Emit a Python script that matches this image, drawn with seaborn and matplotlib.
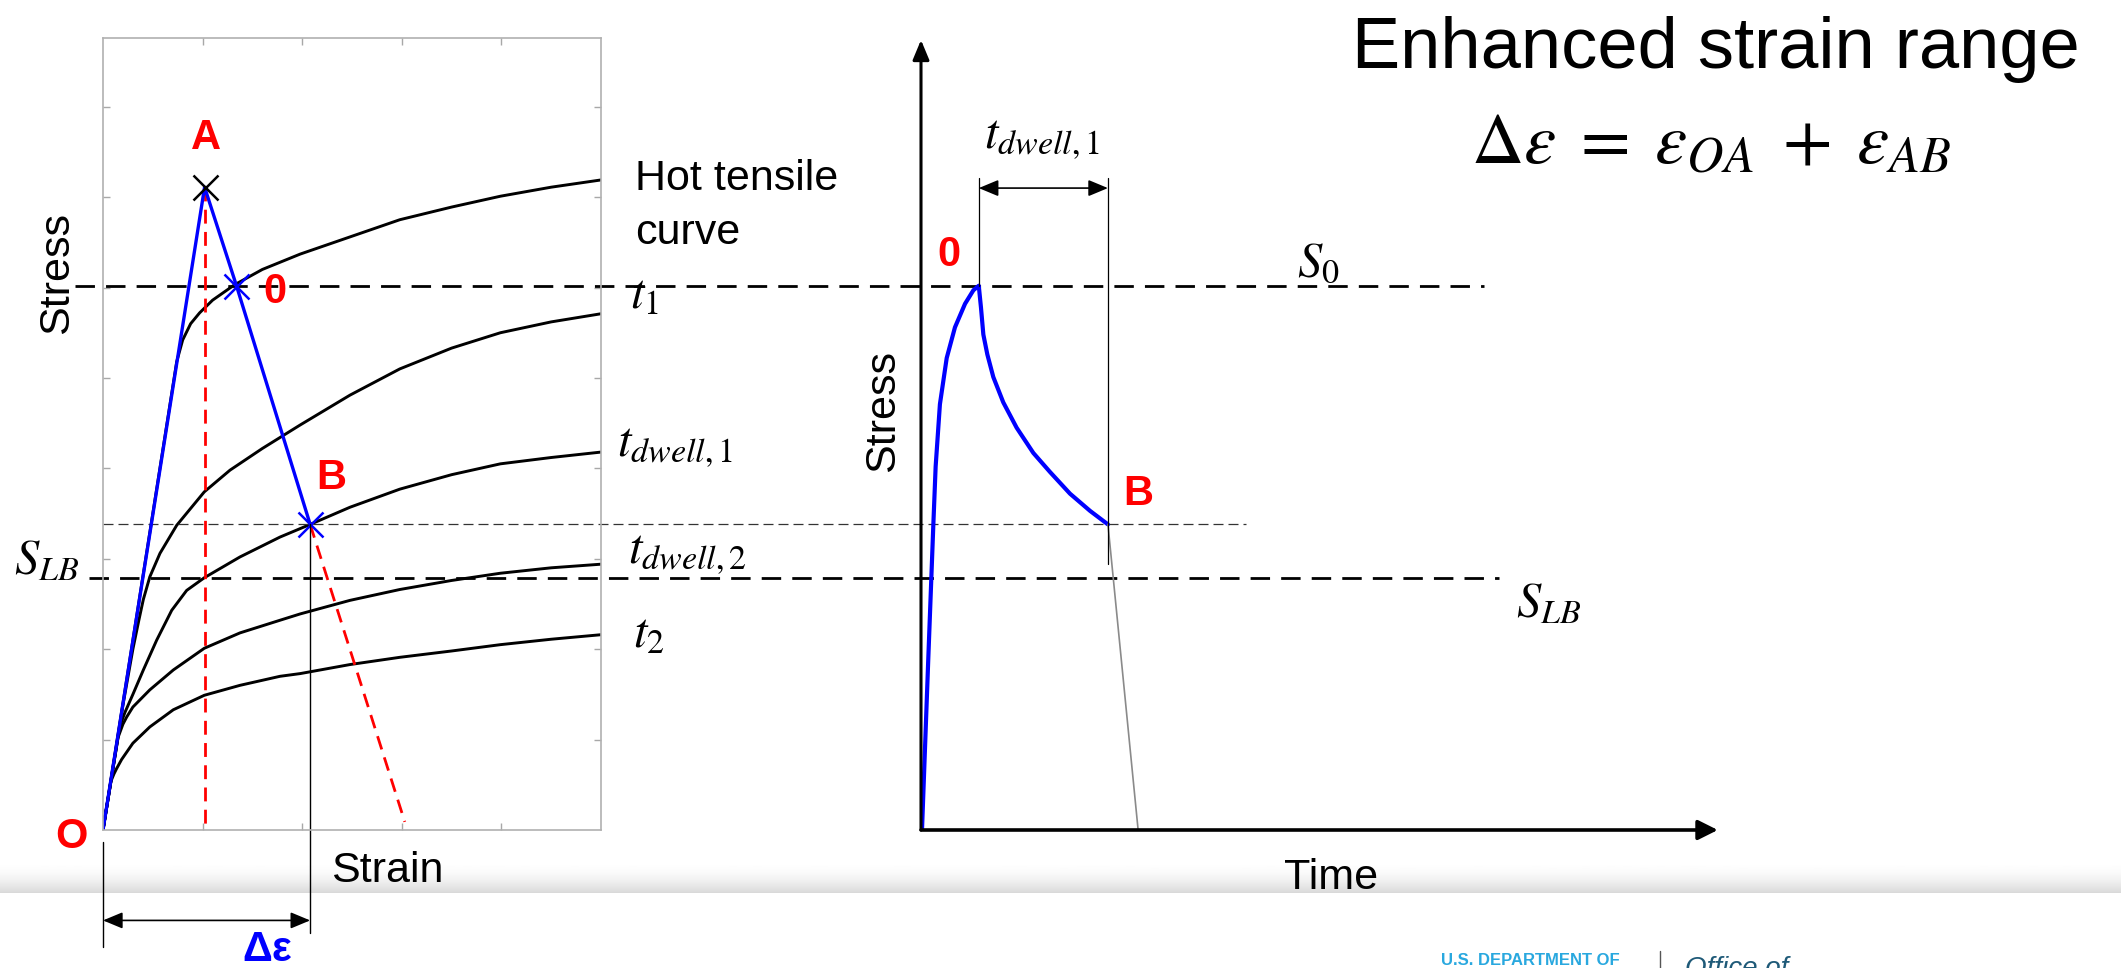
import numpy as np
import pandas as pd
import matplotlib
matplotlib.use("Agg")
import matplotlib.pyplot as plt
import matplotlib.transforms as mtransforms
from matplotlib.lines import Line2D
from matplotlib import font_manager
import seaborn as sns

# ---- values (left panel: strain / stress in tick units) ----
strain_hot = [0, 0.74, 0.80, 0.88, 0.97, 1.10, 1.32, 1.60, 1.98, 2.48, 2.98, 3.50, 3.99, 4.50, 5.00]
stress_hot = [0, 5.18, 5.42, 5.60, 5.72, 5.86, 6.03, 6.20, 6.37, 6.56, 6.75, 6.89, 7.01, 7.11, 7.19]

strain_t1 = [0, 0.20, 0.30, 0.36, 0.405, 0.47, 0.572, 0.74, 1.017, 1.275, 1.60, 1.98, 2.48, 2.98, 3.50, 3.99, 4.50, 5.00]
stress_t1 = [0, 1.38, 2.00, 2.32, 2.55, 2.80, 3.06, 3.37, 3.74, 3.98, 4.22, 4.48, 4.81, 5.10, 5.33, 5.50, 5.62, 5.71]

strain_dw1 = [0, 0.17, 0.22, 0.30, 0.405, 0.539, 0.69, 0.84, 1.017, 1.375, 1.777, 2.08, 2.48, 2.98, 3.50, 3.99, 4.50, 5.00]
stress_dw1 = [0, 1.15, 1.30, 1.50, 1.77, 2.10, 2.43, 2.65, 2.79, 3.02, 3.24, 3.38, 3.57, 3.77, 3.93, 4.05, 4.12, 4.18]

strain_dw2 = [0, 0.15, 0.20, 0.238, 0.30, 0.47, 0.706, 1.017, 1.375, 1.777, 1.98, 2.48, 2.98, 3.50, 3.99, 4.50, 5.00]
stress_dw2 = [0, 1.02, 1.17, 1.25, 1.36, 1.55, 1.77, 2.01, 2.18, 2.32, 2.39, 2.54, 2.66, 2.76, 2.84, 2.90, 2.94]

strain_t2 = [0, 0.08, 0.11, 0.137, 0.187, 0.30, 0.47, 0.706, 1.017, 1.375, 1.777, 1.98, 2.48, 2.98, 3.50, 3.99, 4.50, 5.00]
stress_t2 = [0, 0.54, 0.62, 0.68, 0.78, 0.96, 1.14, 1.33, 1.49, 1.60, 1.70, 1.73, 1.83, 1.91, 1.98, 2.05, 2.11, 2.16]

point_A = (1.02, 7.11)
point_0 = (1.34, 6.02)
point_B = (2.08, 3.38)
unload_end = (3.03, 0.09)
S0 = 6.02
S_LB = 2.79

# ---- right panel: time / stress ----
time_blue = [0.01, 0.074, 0.124, 0.147, 0.19, 0.258, 0.341, 0.442, 0.526, 0.58,
             0.602, 0.626, 0.666, 0.726, 0.826, 0.96, 1.128, 1.295, 1.496, 1.697, 1.877]
stress_blue = [0.0, 1.92, 3.38, 4.02, 4.71, 5.22, 5.56, 5.82, 5.97, 6.02,
               5.78, 5.48, 5.26, 5.01, 4.73, 4.45, 4.17, 3.96, 3.72, 3.53, 3.38]
t_peak = 0.58
t_B = 1.877
t_unload = 2.18
dwell_top = 7.21
dwell_arrow = 7.10
B_line_bottom = 2.94

# ---- setup ----
W, H = 2121, 968
sns.set_style("white")
plt.rcParams["font.family"] = ["Liberation Sans", "DejaVu Sans"]
plt.rcParams["mathtext.fontset"] = "stix"
plt.rcParams["text.color"] = "black"
names = {f.name for f in font_manager.fontManager.ttflist}
narrow = "Liberation Sans Narrow" if "Liberation Sans Narrow" in names else "Liberation Sans"


def fx(x):
    return x / W


def fy(y):
    return 1 - y / H


fig = plt.figure(figsize=(W / 100, H / 100), dpi=100)

# footer gradient band
ax_band = fig.add_axes([0, fy(893), 1, 33 / H])
grad = 1 - 0.15 * np.linspace(0, 1, 60) ** 2
ax_band.imshow(grad[:, None], aspect="auto", cmap="gray", vmin=0, vmax=1, extent=[0, 1, 0, 1])
ax_band.axis("off")

# ---- left panel ----
ax_l = fig.add_axes([fx(103), fy(830), 498 / W, 792 / H])
ax_l.set_xlim(0, 5)
ax_l.set_ylim(0, 8.76)
ax_l.set_xticks([1, 2, 3, 4])
ax_l.set_yticks(range(1, 9))
ax_l.tick_params(direction="in", length=5, width=1, colors="#a8a8a8",
                 top=True, right=True, bottom=True, left=True,
                 labelbottom=False, labelleft=False)
for sp in ax_l.spines.values():
    sp.set_color("#b0b0b0")
    sp.set_linewidth(1.2)

curves = pd.concat([
    pd.DataFrame({"strain": strain_hot, "stress": stress_hot, "curve": "hot"}),
    pd.DataFrame({"strain": strain_t1, "stress": stress_t1, "curve": "t1"}),
    pd.DataFrame({"strain": strain_dw1, "stress": stress_dw1, "curve": "dwell1"}),
    pd.DataFrame({"strain": strain_dw2, "stress": stress_dw2, "curve": "dwell2"}),
    pd.DataFrame({"strain": strain_t2, "stress": stress_t2, "curve": "t2"}),
])
sns.lineplot(data=curves, x="strain", y="stress", units="curve", estimator=None,
             sort=False, color="black", lw=2.1, ax=ax_l, legend=False)

# spanning horizontal dashed lines
trans = mtransforms.blended_transform_factory(fig.transFigure, ax_l.transData)
ax_l.plot([fx(75), fx(1484)], [S0, S0], transform=trans, clip_on=False,
          color="black", lw=2.0, ls=(0, (7, 4)))
ax_l.plot([fx(89), fx(1499)], [S_LB, S_LB], transform=trans, clip_on=False,
          color="black", lw=2.0, ls=(0, (7, 4)))
ax_l.plot([fx(103), fx(1246)], [point_B[1], point_B[1]], transform=trans, clip_on=False,
          color="#333333", lw=0.9, ls=(0, (8, 4)))

# red construction lines
ax_l.plot([point_A[0], point_A[0]], [point_A[1], 0], color="red", lw=2.0, ls=(0, (5, 3)))
ax_l.plot([point_B[0], unload_end[0]], [point_B[1], unload_end[1]], color="red", lw=2.0, ls=(0, (5, 3)))

# blue loading / relaxation path
sns.lineplot(x=[0, point_A[0], point_0[0], point_B[0]], y=[0, point_A[1], point_0[1], point_B[1]],
             sort=False, color="blue", lw=2.4, ax=ax_l)
ax_l.plot(*point_A, marker="x", color="black", ms=18, mew=1.8)
ax_l.plot([point_0[0], point_B[0]], [point_0[1], point_B[1]], ls="none",
          marker="x", color="blue", ms=18, mew=1.8)

# strain range dimension
ax_l.plot([0, 0], [-0.13, -1.29], color="black", lw=1.0, clip_on=False)
ax_l.plot([point_B[0], point_B[0]], [point_B[1], -1.14], color="black", lw=1.0, clip_on=False)
ax_l.annotate("", xy=(point_B[0], -1.0), xytext=(0, -1.0), annotation_clip=False,
              arrowprops=dict(arrowstyle="<|-|>,head_length=0.6,head_width=0.25",
                              mutation_scale=20, lw=1.2, color="black", shrinkA=0, shrinkB=0))
ax_l.set_xlabel("")
ax_l.set_ylabel("")

# ---- right panel ----
ax_r = fig.add_axes([fx(921), fy(830), 800 / W, 792 / H])
ax_r.set_xlim(0, 800 / 99.6)
ax_r.set_ylim(0, 8.76)
ax_r.axis("off")
ax_r.annotate("", xy=(0, 0.9975), xytext=(0, 0), xycoords="axes fraction",
              arrowprops=dict(arrowstyle="-|>,head_length=0.6,head_width=0.25",
                              mutation_scale=20, lw=2.2, color="black", shrinkA=0, shrinkB=0))
ax_r.annotate("", xy=(0.996, 0), xytext=(0, 0), xycoords="axes fraction",
              arrowprops=dict(arrowstyle="-|>,head_length=0.6,head_width=0.3",
                              mutation_scale=20, lw=2.6, color="black", shrinkA=0, shrinkB=0))

sns.lineplot(x=time_blue, y=stress_blue, sort=False, color="blue", lw=3.0, ax=ax_r)
ax_r.plot([t_B, t_unload], [point_B[1], 0], color="#8a8a8a", lw=1.2)
ax_r.plot([t_peak, t_peak], [S0, dwell_top], color="black", lw=0.9)
ax_r.plot([t_B, t_B], [B_line_bottom, dwell_top], color="black", lw=0.9)
ax_r.annotate("", xy=(t_B, dwell_arrow), xytext=(t_peak, dwell_arrow),
              arrowprops=dict(arrowstyle="<|-|>,head_length=0.6,head_width=0.25",
                              mutation_scale=20, lw=1.2, color="black", shrinkA=0, shrinkB=0))
ax_r.set_xlabel("")
ax_r.set_ylabel("")

# ---- text ----
lab = dict(fontsize=31, ha="center", va="center")
fig.text(fx(57), fy(273), "Stress", rotation=90, **lab)
fig.text(fx(387), fy(871), "Strain", **lab)
fig.text(fx(883), fy(411), "Stress", rotation=90, **lab)
fig.text(fx(1331), fy(878), "Time", **lab)
fig.text(fx(635), fy(190), "Hot tensile", fontsize=31, ha="left", va="baseline")
fig.text(fx(635), fy(244), "curve", fontsize=31, ha="left", va="baseline")

math = dict(fontsize=35, ha="left", va="center")
fig.text(fx(630), fy(296), r"$t_1$", **math)
fig.text(fx(617), fy(448), r"$t_{dwell,1}$", **math)
fig.text(fx(628), fy(554), r"$t_{dwell,2}$", **math)
fig.text(fx(633), fy(635), r"$t_2$", **math)
fig.text(fx(14), fy(562), r"$S_{LB}$", **math)
fig.text(fx(1297), fy(264), r"$S_0$", **math)
fig.text(fx(1516), fy(605), r"$S_{LB}$", **math)
fig.text(fx(984), fy(140), r"$t_{dwell,1}$", **math)

red = dict(fontsize=30, fontweight="bold", color="red", ha="center", va="center")
fig.text(fx(206), fy(138), "A", **red)
fig.text(fx(275), fy(292), "0", family=narrow, **red)
fig.text(fx(331), fy(478), "B", **red)
fig.text(fx(71), fy(837), "O", **red)
fig.text(fx(949), fy(255), "0", family=narrow, **red)
fig.text(fx(1138), fy(494), "B", **red)

fig.text(fx(267), fy(950), "Δε", fontsize=30, fontweight="bold", color="blue",
         ha="center", va="center")

fig.text(fx(1716), fy(68), "Enhanced strain range", fontsize=52, ha="center", va="baseline")
fig.text(fx(1711), fy(163), r"$\Delta\varepsilon\;=\;\varepsilon_{OA}\;+\;\varepsilon_{AB}$",
         fontsize=52, ha="center", va="baseline")

# footer
fig.text(fx(1441), fy(953), "U.S. DEPARTMENT OF", family=narrow, fontsize=12,
         fontweight="bold", color="#29a8df", ha="left", va="top")
fig.add_artist(Line2D([fx(1660), fx(1660)], [fy(951), fy(968)], color="#555555", lw=1))
fig.text(fx(1685), fy(956), "Office of", fontsize=20, style="italic", color="#1f5a78",
         ha="left", va="top")

fig.savefig("out.png", dpi=100, facecolor="white")
